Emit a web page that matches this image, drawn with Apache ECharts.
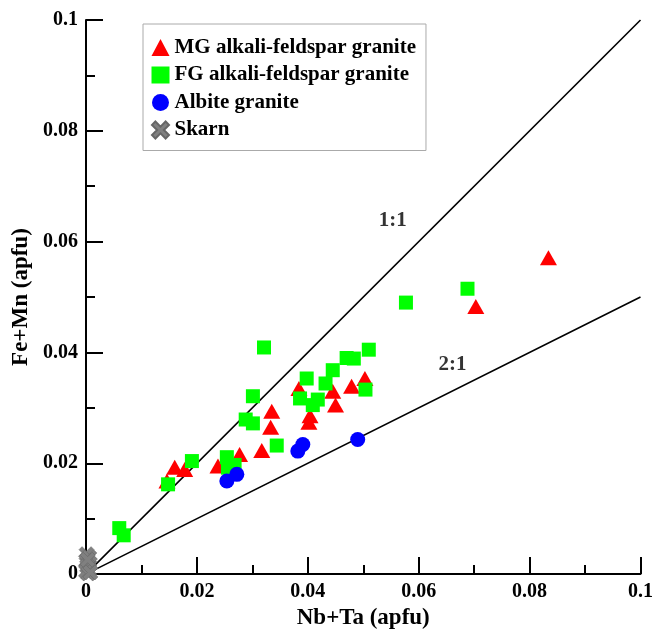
<!DOCTYPE html>
<html>
<head>
<meta charset="utf-8">
<script src="https://cdn.jsdelivr.net/npm/echarts@6/dist/echarts.min.js"></script>
<style>
html,body{margin:0;padding:0;background:#fff;}
#chart{width:656px;height:635px;}
</style>
</head>
<body>
<div id="chart"></div>
<script>
// ---- data ----
const seriesNames = ['MG alkali-feldspar granite', 'FG alkali-feldspar granite', 'Albite granite', 'Skarn'];
const xTicks = [0, 0.02, 0.04, 0.06, 0.08, 0.1];
const yTicks = [0, 0.02, 0.04, 0.06, 0.08, 0.1];

const mgData = [
  [0.0146,0.0168],[0.0160,0.0193],[0.0178,0.0189],[0.0238,0.0195],[0.0277,0.0216],
  [0.0317,0.0223],[0.0335,0.0294],[0.0333,0.0265],[0.0384,0.0335],[0.0404,0.0286],
  [0.0402,0.0274],[0.0445,0.0330],[0.0450,0.0305],[0.0479,0.0339],[0.0503,0.0353],
  [0.0703,0.0483],[0.0834,0.0571]
];
const fgData = [
  [0.0060,0.0083],[0.0068,0.0070],[0.0148,0.0162],[0.0191,0.0204],[0.0254,0.0211],
  [0.0268,0.0197],[0.0256,0.0192],[0.0288,0.0279],[0.0301,0.0272],[0.0301,0.0321],
  [0.0321,0.0409],[0.0344,0.0232],[0.0386,0.0317],[0.0398,0.0353],[0.0409,0.0305],
  [0.0418,0.0315],[0.0432,0.0344],[0.0445,0.0368],[0.0470,0.0390],[0.0483,0.0389],
  [0.0504,0.0333],[0.0510,0.0405],[0.0577,0.0490],[0.0688,0.0515]
];
const albiteData = [
  [0.0254,0.0168],[0.0272,0.0180],[0.0382,0.0222],[0.0391,0.0234],[0.0490,0.0243]
];
const skarnData = [
  [0.0001,0.0036],[0.0006,0.0030],[0.0000,0.0024],[0.0007,0.0019],[0.0002,0.0014],
  [0.0006,0.0008],[0.0000,0.0005],[0.0004,0.0001],[0.0008,0.0003],[0.0003,0.0026]
];
const line11 = [[0,0],[0.1,0.1]];
const line21 = [[0,0],[0.1,0.05]];
const ratioLabels = [
  {name:'1:1', value:[0.0553,0.0638]},
  {name:'2:1', value:[0.0661,0.0378]}
];

const FONT = "'Liberation Serif', 'Times New Roman', serif";
const xPath = 'path://M2,0 L5,3 L8,0 L10,2 L7,5 L10,8 L8,10 L5,7 L2,10 L0,8 L3,5 L0,2 Z';

const chart = echarts.init(document.getElementById('chart'));

function axisCommon(ticks){
  return {
    type:'value', min:ticks[0], max:ticks[ticks.length-1], interval:ticks[1]-ticks[0],
    splitLine:{show:false},
    axisLine:{show:true, lineStyle:{color:'#000', width:2}},
    axisTick:{show:true, inside:true, length:17, lineStyle:{color:'#000', width:2}},
    minorTick:{show:true, splitNumber:2, length:9, lineStyle:{color:'#000', width:2}},
    axisLabel:{color:'#000', fontFamily:FONT, fontWeight:'bold', fontSize:20, margin:8,
      formatter:function(v){ return String(+v.toFixed(4)); }},
    nameTextStyle:{color:'#000', fontFamily:FONT, fontWeight:'bold', fontSize:23}
  };
}

const option = {
  backgroundColor:'#fff',
  animation:false,
  grid:{left:86, right:15, top:20, bottom:60, containLabel:false},
  xAxis: Object.assign(axisCommon(xTicks), {name:'Nb+Ta (apfu)', nameLocation:'middle', nameGap:29}),
  yAxis: Object.assign(axisCommon(yTicks), {name:'Fe+Mn (apfu)', nameLocation:'middle', nameGap:52}),
  legend:{
    data:seriesNames,
    orient:'vertical', left:143, top:24,
    padding:[13,10,10,8],
    itemGap:6.5, itemWidth:18, itemHeight:17,
    backgroundColor:'#fff', borderColor:'#aaa', borderWidth:1,
    textStyle:{color:'#000', fontFamily:FONT, fontWeight:'bold', fontSize:21, lineHeight:21}
  },
  series:[
    {type:'line', data:line11, showSymbol:false, symbol:'none', silent:true, z:1,
     lineStyle:{color:'#000', width:1.6}},
    {type:'line', data:line21, showSymbol:false, symbol:'none', silent:true, z:1,
     lineStyle:{color:'#000', width:1.6}},
    {type:'scatter', data:ratioLabels, symbolSize:0, silent:true, z:1,
     label:{show:true, position:'inside', formatter:'{b}', color:'#000',
       fontFamily:FONT, fontWeight:'bold', fontSize:21}},
    {name:seriesNames[0], type:'scatter', data:mgData, symbol:'triangle', symbolSize:[17,15],
     itemStyle:{color:'#ff0000', opacity:1}, z:3},
    {name:seriesNames[1], type:'scatter', data:fgData, symbol:'rect', symbolSize:14,
     itemStyle:{color:'#00ff00', opacity:1}, z:3},
    {name:seriesNames[2], type:'scatter', data:albiteData, symbol:'circle', symbolSize:15,
     itemStyle:{color:'#0000ff', opacity:1}, z:3},
    {name:seriesNames[3], type:'scatter', data:skarnData, symbol:xPath, symbolSize:15,
     itemStyle:{color:'#808080', borderColor:'#666', borderWidth:0.6, opacity:1}, z:3}
  ]
};
chart.setOption(option);
</script>
</body>
</html>
